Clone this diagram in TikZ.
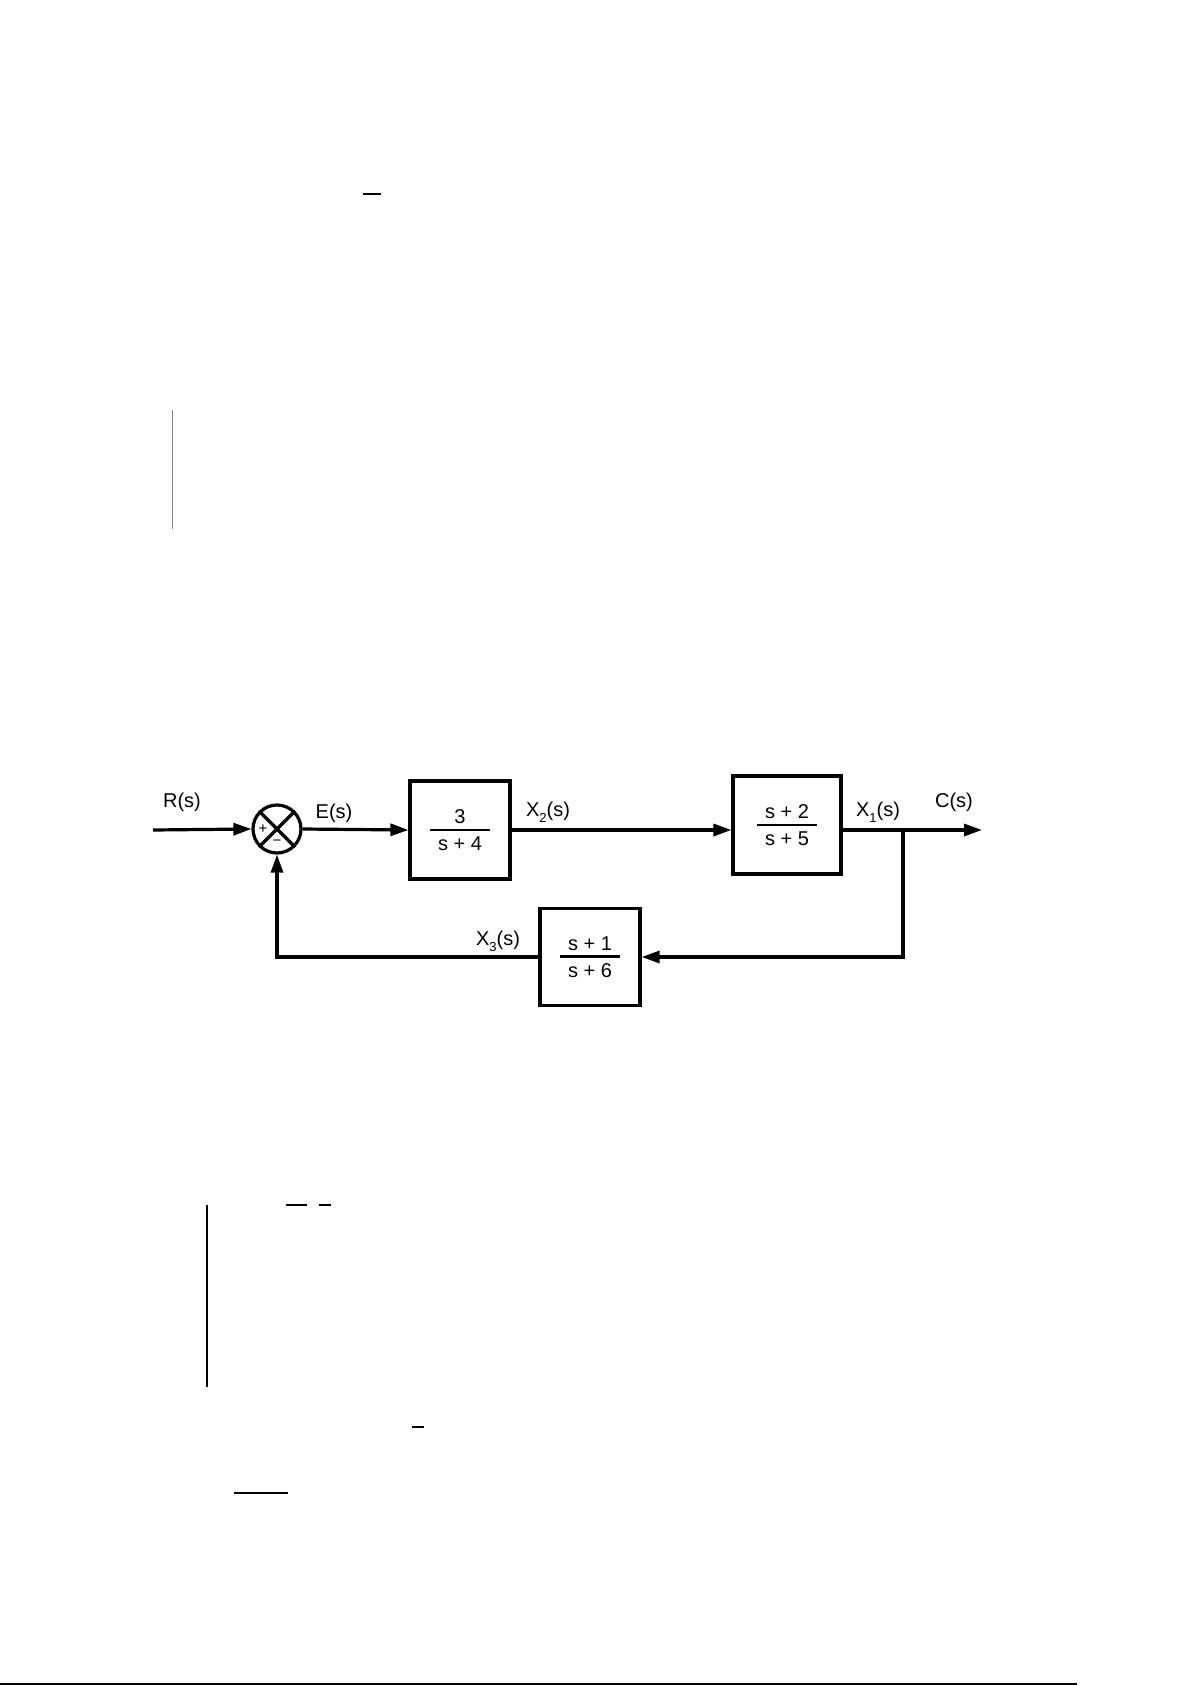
\documentclass[tikz,border=0pt]{standalone}
\usepackage{fontspec}
\setmainfont{Liberation Sans}
\usetikzlibrary{arrows.meta}
\newcommand{\lowidx}[1]{\raisebox{-0.3em}{\fontsize{13pt}{13pt}\selectfont #1}}
\newcommand{\blockfrac}[2]{\vbox{\offinterlineskip\halign{\hfil##\hfil\cr#1\cr\noalign{\kern5pt}\vrule width 60pt height 2.2pt depth 0pt\cr\noalign{\kern6pt}#2\cr}}}

\begin{document}
\begin{tikzpicture}[x=1pt,y=-1pt,line width=3.2pt,
    font=\fontsize{20pt}{24pt}\selectfont,
    block/.style={draw,minimum width=100pt,minimum height=98pt,inner sep=0pt},
    sig/.style={inner sep=0pt},
    arr/.style={-{Triangle[length=18pt,width=12pt]}}]
    \fill[white] (0,0) rectangle (1192,1685);
    \useasboundingbox (0,0) rectangle (1192,1685);
    \draw[line width=2pt] (363,194) -- (381,194);
    \draw[line width=1pt,gray] (172,410) -- (172,529);
    \draw[line width=2pt] (207,1205) -- (207,1387);
    \draw[line width=2pt] (286,1205) -- (307,1205);
    \draw[line width=2pt] (319,1205) -- (331,1205);
    \draw[line width=2pt] (412,1427) -- (424,1427);
    \draw[line width=2pt] (234,1493) -- (288,1493);
    \draw[line width=1.5pt] (0,1684) -- (1077,1684);

    \coordinate (in) at (153,830);
    \node[draw,circle,minimum size=48pt,inner sep=0pt] (sum) at (277,829) {};
    \draw (sum.north west) -- (sum.south east);
    \draw (sum.north east) -- (sum.south west);
    \node[sig,font=\fontsize{15pt}{15pt}\selectfont] (plus) at (263,829) {+};
    \node[sig,font=\fontsize{15pt}{15pt}\selectfont] (minus) at (277,843) {\char"2212};
    \node[block] (g1) at (460,830) {\blockfrac{3}{s + 4}};
    \node[block,minimum width=108pt] (g2) at (787,825) {\blockfrac{s + 2}{s + 5}};
    \node[block,minimum height=97pt] (h) at (590,957) {\blockfrac{s + 1}{s + 6}};
    \coordinate (br) at (903,830);
    \coordinate (out) at (982,830);

    \node[sig] (r) at (182,802) {R(s)};
    \node[sig] (e) at (334,813) {E(s)};
    \node[sig] (x2) at (548,812) {X\lowidx{2}(s)};
    \node[sig] (x1) at (878,812) {X\lowidx{1}(s)};
    \node[sig] (c) at (954,802) {C(s)};
    \node[sig] (x3) at (498,941) {X\lowidx{3}(s)};

    \draw[arr] (in) -- (sum.west);
    \draw[arr] (sum.east) -- (g1.west);
    \draw[arr] (g1.east) -- (g1.east -| g2.west);
    \draw[arr] (g2.east |- br) -- (out);
    \draw[arr] (br) |- (h.east);
    \draw[arr] (h.west) -| (sum.south);
\end{tikzpicture}
\end{document}
